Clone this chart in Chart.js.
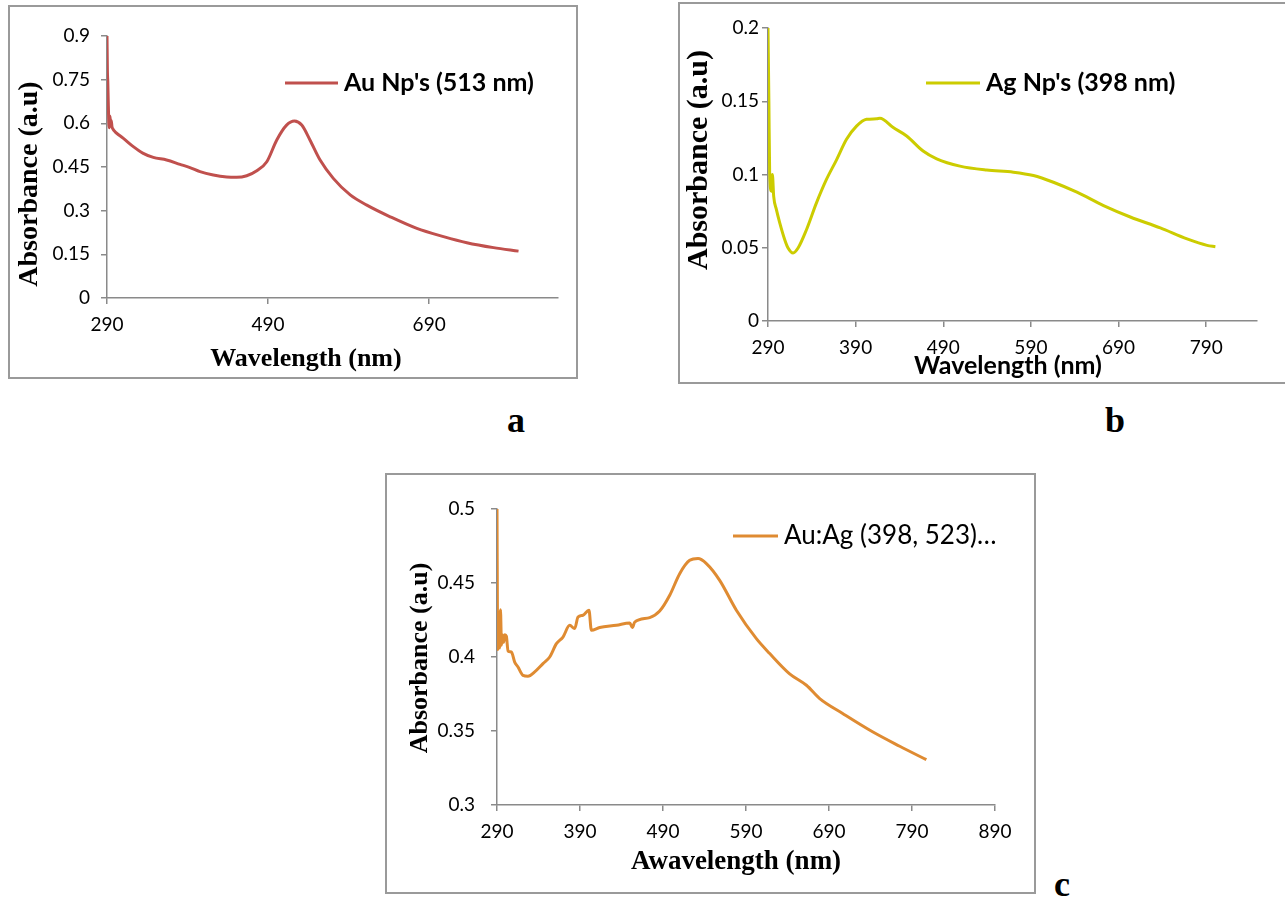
<!DOCTYPE html>
<html>
<head>
<meta charset="utf-8">
<script src="https://cdn.jsdelivr.net/npm/chart.js@4.4.1/dist/chart.umd.min.js"></script>
<style>
  body { margin: 0; width: 1285px; height: 899px; background: #fff; position: relative; overflow: hidden; }
  .frame { position: absolute; border: 2px solid #9a9a9a; box-sizing: border-box; }
  canvas { position: absolute; }
  .tag { position: absolute; font: bold 36px "Liberation Serif", serif; transform: translate(-50%, -50%); color: #000; }
</style>
</head>
<body>
<div class="frame" style="left:8px;top:5px;width:570px;height:374px"></div>
<div class="frame" style="left:678px;top:2px;width:620px;height:382px"></div>
<div class="frame" style="left:385px;top:473px;width:651px;height:421px"></div>
<canvas id="au" width="569" height="373" style="left:8px;top:5px"></canvas>
<canvas id="ag" width="607" height="381" style="left:678px;top:2px"></canvas>
<canvas id="auag" width="650" height="420" style="left:385px;top:473px"></canvas>
<div class="tag" style="left:516px;top:420px">a</div>
<div class="tag" style="left:1115px;top:420px">b</div>
<div class="tag" style="left:1062px;top:884px">c</div>
<script>
// --- (a) Au nanoparticles
const auWavelength = [290, 290.5, 291, 291.5, 292.3, 293, 293.8, 294.5, 295.3, 296.2, 297.5, 300, 302, 310,
  322.7, 335, 347.5, 364, 380.7, 393, 405.5, 422, 438.7, 451, 463.5, 476, 488.4, 500.8, 513, 522.7,
  531.8, 542, 554.6, 571, 592, 612.6, 641.6, 674.7, 707.8, 736.8, 770, 801];
const auAbsorbance = [0.9, 0.78, 0.74, 0.68, 0.6, 0.585, 0.625, 0.59, 0.61, 0.588, 0.58, 0.571, 0.566, 0.549,
  0.52, 0.497, 0.483, 0.474, 0.459, 0.448, 0.434, 0.4225, 0.4157, 0.4146, 0.42, 0.437, 0.468, 0.543, 0.594, 0.608,
  0.594, 0.543, 0.474, 0.411, 0.354, 0.319, 0.279, 0.239, 0.211, 0.19, 0.173, 0.161];
const auXTicks = [290, 490, 690];
const auYTicks = [0, 0.15, 0.3, 0.45, 0.6, 0.75, 0.9];

// --- (b) Ag nanoparticles
const agWavelength = [290, 291, 291.9, 293.9, 295, 296.5, 299.6, 303.4, 309.1, 312.9, 318.6, 324.3, 333.9,
  345.3, 356.7, 368.2, 379.6, 391, 402.5, 413.9, 417.7, 432.9, 448.2, 467, 482.5, 509, 539.6, 570,
  592.9, 615.7, 642.5, 672.9, 703.4, 737.7, 768.2, 791, 800.5];
const agAbsorbance = [0.2, 0.15, 0.101, 0.0886, 0.1, 0.085, 0.076, 0.067, 0.0555, 0.0498, 0.0464, 0.0498, 0.0623,
  0.0806, 0.0966, 0.11, 0.124, 0.133, 0.1377, 0.138, 0.1384, 0.132, 0.1263, 0.116, 0.1107, 0.1057, 0.103, 0.1016,
  0.0993, 0.0947, 0.0879, 0.0788, 0.071, 0.0635, 0.056, 0.0516, 0.0507];
const agXTicks = [290, 390, 490, 590, 690, 790];
const agYTicks = [0, 0.05, 0.1, 0.15, 0.2];

// --- (c) Au:Ag mixture
const mixWavelength = [290, 290.6, 291.2, 292.4, 293.2, 294.2, 295.4, 296.6, 298, 299.5, 301.3, 303.3, 307.3,
  311.3, 315.3, 321.3, 327.3, 335.4, 345.4, 353.5, 361.6, 369.5, 377.6, 383.6, 387.6, 393.6, 400.8, 403.7,
  413.7, 433.9, 449.9, 453.1, 455.9, 474, 486, 498.1, 510.1, 522.2, 532.2, 542.3, 558.3, 578.4, 602.5,
  618.6, 642.2, 662.8, 678.8, 706.9, 743, 775.2, 807.3];
const mixAbsorbance = [0.5, 0.42, 0.405, 0.43, 0.406, 0.432, 0.408, 0.415, 0.41, 0.415, 0.414, 0.404, 0.4034,
  0.3966, 0.3932, 0.3876, 0.387, 0.3899, 0.3955, 0.4, 0.409, 0.4135, 0.4214, 0.4192, 0.427, 0.4282, 0.4316, 0.418,
  0.4199, 0.4214, 0.423, 0.42, 0.4236, 0.4266, 0.431, 0.4417, 0.4563, 0.4653, 0.4665, 0.4631, 0.4518, 0.4316, 0.4124,
  0.4023, 0.3888, 0.3809, 0.3719, 0.3617, 0.3493, 0.3397, 0.3306];
const mixXTicks = [290, 390, 490, 590, 690, 790, 890];
const mixYTicks = [0.3, 0.35, 0.4, 0.45, 0.5];

Chart.defaults.font.family = 'Lato';
Chart.defaults.color = '#000';

const AXIS_GREY = '#8a8a8a';

// legend drawn inside the plot, like the Excel original
const innerLegend = {
  id: 'innerLegend',
  afterDraw(chart, args, opts) {
    const ds = chart.data.datasets[0];
    const ctx = chart.ctx;
    ctx.save();
    ctx.strokeStyle = ds.borderColor;
    ctx.lineWidth = ds.borderWidth;
    ctx.beginPath();
    ctx.moveTo(opts.x, opts.y);
    ctx.lineTo(opts.x + opts.len, opts.y);
    ctx.stroke();
    ctx.fillStyle = '#000';
    ctx.font = opts.font;
    ctx.textBaseline = 'middle';
    ctx.fillText(ds.label, opts.x + opts.len + 6, opts.y);
    ctx.restore();
  }
};

// axis titles sit a little off-centre in the original, so place them by hand
const axisTitles = {
  id: 'axisTitles',
  afterDraw(chart, args, o) {
    const ctx = chart.ctx;
    ctx.save();
    ctx.fillStyle = '#000';
    ctx.textAlign = 'center';
    ctx.textBaseline = 'middle';
    ctx.font = o.xFont;
    ctx.fillText(o.xText, o.xAt[0], o.xAt[1]);
    ctx.translate(o.yAt[0], o.yAt[1]);
    ctx.rotate(-Math.PI / 2);
    ctx.font = o.yFont;
    ctx.fillText(o.yText, 0, 0);
    ctx.restore();
  }
};

function spectrum(id, c) {
  return new Chart(document.getElementById(id), {
    type: 'line',
    data: {
      datasets: [{
        label: c.label,
        data: c.x.map((v, i) => ({ x: v, y: c.y[i] })),
        borderColor: c.color,
        borderWidth: 3,
        pointRadius: 0,
        cubicInterpolationMode: 'monotone',
        fill: false
      }]
    },
    options: {
      responsive: false,
      animation: false,
      layout: { padding: c.pad },
      plugins: {
        legend: { display: false },
        tooltip: { enabled: false },
        innerLegend: c.legend,
        axisTitles: c.titles
      },
      scales: {
        x: {
          type: 'linear',
          min: c.xMin,
          max: c.xMax,
          afterBuildTicks: s => { s.ticks = c.xTicks.map(v => ({ value: v })); },
          afterFit: s => { s.height = c.xHeight; },
          grid: { drawOnChartArea: false, tickLength: 6, color: AXIS_GREY, lineWidth: 1.5 },
          border: { color: AXIS_GREY, width: 1.5 },
          ticks: { font: { size: 19 }, padding: 9, maxRotation: 0, autoSkip: false, callback: v => String(v) }
        },
        y: {
          min: c.yTicks[0],
          max: c.yTicks[c.yTicks.length - 1],
          afterBuildTicks: s => { s.ticks = c.yTicks.map(v => ({ value: v })); },
          afterFit: s => { s.width = c.yWidth; },
          grid: { drawOnChartArea: false, tickLength: 6, color: AXIS_GREY, lineWidth: 1.5 },
          border: { color: AXIS_GREY, width: 1.5 },
          ticks: { font: { size: 19 }, padding: c.yTickPad, callback: v => String(+v.toFixed(2)) }
        }
      }
    },
    plugins: [innerLegend, axisTitles]
  });
}

spectrum('au', {
  label: "Au Np's (513 nm)", x: auWavelength, y: auAbsorbance, color: '#c0504d',
  xMin: 290, xMax: 850, xTicks: auXTicks, yTicks: auYTicks,
  pad: { left: 6, top: 31, right: 19, bottom: 0 }, xHeight: 80, yWidth: 93, yTickPad: 11,
  legend: { x: 277, y: 78, len: 53, font: 'bold 25px Lato' },
  titles: {
    xText: 'Wavelength (nm)', xFont: 'bold 26px "Liberation Serif"', xAt: [298, 354],
    yText: 'Absorbance (a.u)', yFont: 'bold 28px "Liberation Serif"', yAt: [22, 179]
  }
});

spectrum('ag', {
  label: "Ag Np's (398 nm)", x: agWavelength, y: agAbsorbance, color: '#cccc00',
  xMin: 290, xMax: 848, xTicks: agXTicks, yTicks: agYTicks,
  pad: { left: 5, top: 26, right: 28, bottom: 0 }, xHeight: 62, yWidth: 85, yTickPad: 3,
  legend: { x: 248, y: 81, len: 54, font: 'bold 25px Lato' },
  titles: {
    xText: 'Wavelength (nm)', xFont: 'bold 25px Lato', xAt: [330, 364],
    yText: 'Absorbance (a.u)', yFont: 'bold 30px "Liberation Serif"', yAt: [21, 158]
  }
});

spectrum('auag', {
  label: 'Au:Ag (398, 523)…', x: mixWavelength, y: mixAbsorbance, color: '#df8b32',
  xMin: 290, xMax: 890, xTicks: mixXTicks, yTicks: mixYTicks,
  pad: { left: 19, top: 36, right: 40, bottom: 0 }, xHeight: 88, yWidth: 93, yTickPad: 16,
  legend: { x: 348, y: 63, len: 45, font: '26px Lato' },
  titles: {
    xText: 'Awavelength (nm)', xFont: 'bold 27px "Liberation Serif"', xAt: [351, 389],
    yText: 'Absorbance (a.u)', yFont: 'bold 26px "Liberation Serif"', yAt: [35, 185]
  }
});
</script>
</body>
</html>
